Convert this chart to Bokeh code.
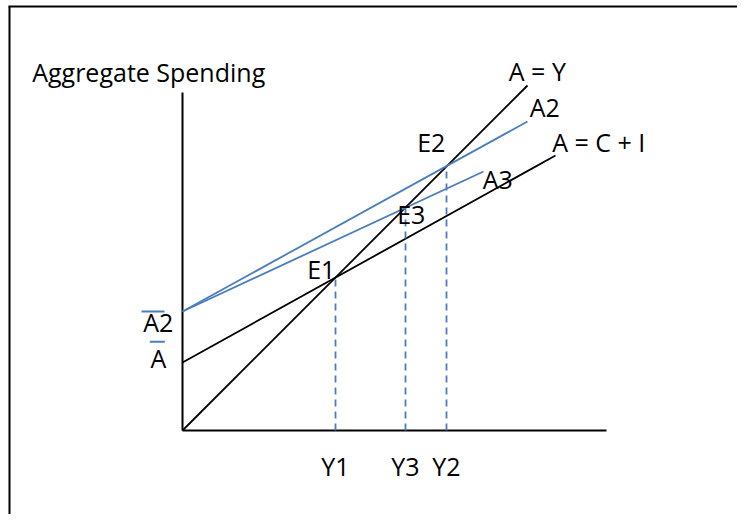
from bokeh.plotting import figure
from bokeh.models import Range1d
from bokeh.core.properties import value
from bokeh.embed import file_html
from bokeh.resources import INLINE

# ---- data (1 unit ~ 1 px from the origin) ----
line_names = ["A = Y", "A = C + I", "A2", "A3"]
line_x0 = [0, 0, 0, 0]
line_y0 = [0, 68, 119, 119]
line_x1 = [345, 373, 345, 301]
line_y1 = [345, 275, 309, 259]

eq_labels = ["E1", "E3", "E2"]
income_labels = ["Y1", "Y3", "Y2"]
eq_income = [153, 223, 264]
eq_spending = [153, 223, 264]

intercept_labels = ["A2", "A"]
intercept_values = [119, 68]

axis_x_max = 424
axis_y_max = 338

BLUE = "#4A7EBB"
FONT = value("Open Sans")
FS = "25px"
DY = 10  # baseline correction for the text glyph

p = figure(width=737, height=514, x_range=Range1d(-182, 555), y_range=Range1d(-84, 430),
           output_backend="svg", toolbar_location=None, min_border=0)
p.axis.visible = False
p.grid.visible = False
p.outline_line_color = None
p.background_fill_color = "white"

# outer frame (left and top edges visible)
p.segment(x0=[-173, -174], y0=[-84, 424], x1=[-173, 555], y1=[424, 424],
          line_color="black", line_width=2)

# axes
p.segment(x0=[0, 0], y0=[0, 0], x1=[axis_x_max, 0], y1=[0, axis_y_max],
          line_color="black", line_width=2)

# spending lines
line_colors = ["black", "black", BLUE, BLUE]
p.segment(x0=line_x0, y0=line_y0, x1=line_x1, y1=line_y1,
          line_color=line_colors, line_width=1.8)

# dashed drop lines
p.segment(x0=eq_income, y0=[0] * len(eq_income), x1=eq_income, y1=eq_spending,
          line_color=BLUE, line_width=1.8, line_dash="7 5")

def txt(x, y, t, align="left"):
    p.text(x=[x], y=[y + DY], text=[t], text_font=FONT, text_font_size=FS,
           text_color="black", text_baseline="alphabetic", text_align=align)

# title
txt(-150.3, 348.3, "Aggregate Spending")

# line labels (placed near line ends)
txt(line_x1[0] - 18.7, line_y1[0] + 4.3, line_names[0])
txt(line_x1[1] - 3.3, line_y1[1] + 3.3, line_names[1])
txt(line_x1[2] + 2.3, line_y1[2] + 4.3, line_names[2])
txt(line_x1[3] - 0.7, line_y1[3] - 17.3, line_names[3])

# equilibrium labels
txt(eq_income[0] - 28.3, eq_spending[0] - 1.7, eq_labels[0])
txt(eq_income[1] - 8.3, eq_spending[1] - 16.3, eq_labels[1])
txt(eq_income[2] - 29.3, eq_spending[2] + 14.3, eq_labels[2])

# income labels under the axis
for xi, lab in zip(eq_income, income_labels):
    txt(xi, -45, lab, align="center")

# intercept labels with bars
txt(-39.3, intercept_values[0] - 20.7, intercept_labels[0])
txt(-32, intercept_values[1] - 5, intercept_labels[1])
p.segment(x0=[-41, -32.7], y0=[intercept_values[0], intercept_values[1] + 20.7],
          x1=[-18, -17.7], y1=[intercept_values[0], intercept_values[1] + 20.7],
          line_color=BLUE, line_width=2)

open("out.html", "w").write(file_html(p, INLINE))
